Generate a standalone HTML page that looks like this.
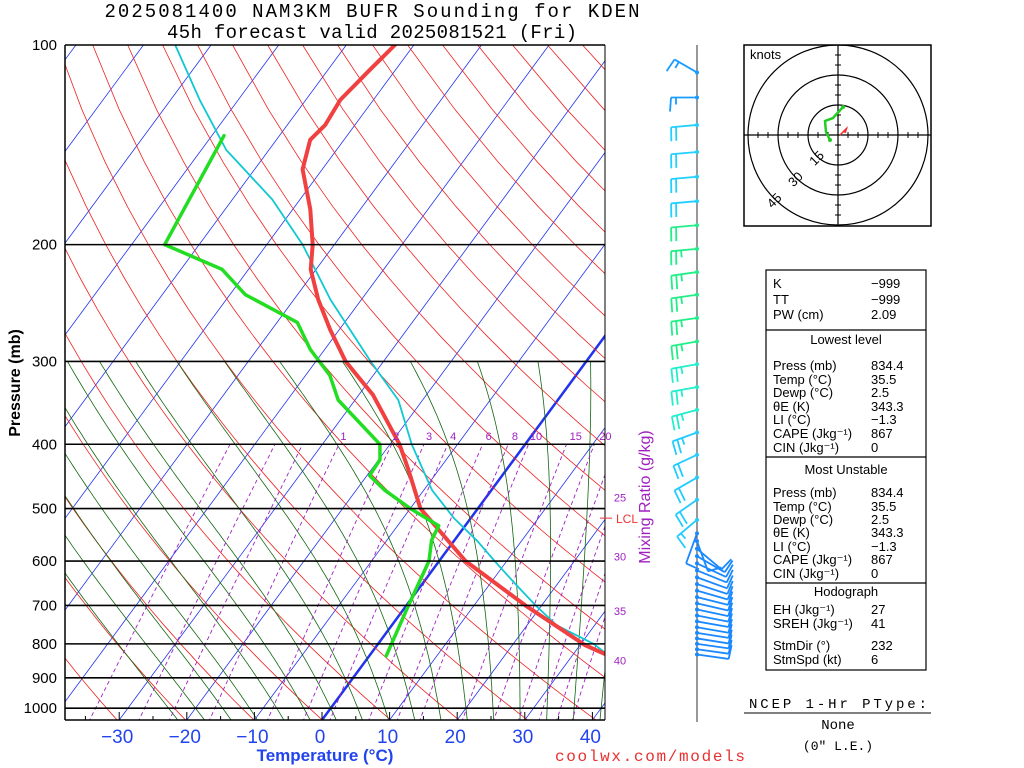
<!DOCTYPE html>
<html><head><meta charset="utf-8"><style>
html,body{margin:0;padding:0;background:#fff;}
svg{display:block;font-family:"Liberation Sans",sans-serif;}
</style></head><body>
<svg id="c" width="1024" height="768" viewBox="0 0 1024 768">
<defs><clipPath id="pc"><rect x="65" y="45" width="540" height="675"/></clipPath></defs>
<g id="bg" clip-path="url(#pc)"></g>
<g id="data" clip-path="url(#pc)"></g>
<g id="axes"></g>
<g id="barbs"></g>
<text x="372" y="17" text-anchor="middle" font-family="Liberation Mono,monospace" font-size="19" textLength="535">2025081400 NAM3KM BUFR Sounding for KDEN</text>
<text x="372" y="38" text-anchor="middle" font-family="Liberation Mono,monospace" font-size="19" textLength="410">45h forecast valid 2025081521 (Fri)</text>
<text transform="translate(20,383) rotate(-90)" text-anchor="middle" font-size="16" font-weight="bold">Pressure (mb)</text>
<text x="325" y="761" text-anchor="middle" font-size="17" font-weight="bold" fill="#2244ee">Temperature (°C)</text>
<text x="650" y="761" text-anchor="middle" font-size="16" fill="#e83030" font-family="Liberation Mono,monospace" textLength="190">coolwx.com/models</text>
<text transform="translate(650,497) rotate(-90)" text-anchor="middle" font-size="16" fill="#a020c0">Mixing Ratio (g/kg)</text>
<g id="hodo"></g>
<g id="stats"></g>
<g font-family="Liberation Mono,monospace" font-size="14" text-anchor="middle">
<text x="838" y="708" textLength="178">NCEP 1-Hr PType:</text>
<line x1="744" y1="713" x2="931" y2="713" stroke="#000"/>
<text x="838" y="729">None</text>
<text x="838" y="750" font-size="13">(0" L.E.)</text>
</g>
</svg>
<script>
// ---- data ----
const tempP=[834,803,700,600,500,437,400,337,300,269,242,218,200,177,154,139,132,121,109,100];
const tempT=[35.5,30.7,17.6,3.9,-8.5,-14.5,-18.6,-27.9,-35.6,-41.3,-46.4,-50.8,-53.2,-57.4,-62.9,-65,-64.4,-64.9,-63.8,-62.8];
const dewP=[834,700,600,558,531,500,469,446,422,400,343,315,288,262,238,218,200,137];
const dewT=[2.5,0.3,-1.5,-3.4,-3.9,-10,-15.8,-19.6,-19.8,-21.5,-32.5,-36.4,-42.1,-47,-57.7,-63.9,-75.1,-78.2];
const parcelP=[834,800,750,700,650,600,560,517,469,400,343,300,242,200,171,144,121,100];
const parcelT=[35.5,31.9,24.4,19.1,13.8,8.2,3.5,-2.5,-8.8,-16.8,-23.6,-31.9,-44.6,-54.7,-64.1,-76.3,-85.7,-95.3];
const pLabels=[100,200,300,400,500,600,700,800,900,1000];
const tLabels=[-30,-20,-10,0,10,20,30,40];
const mixVals=[0.2,0.4,0.6,1,2,3,4,6,8,10,15,20,25,30,35,40];
const mixRightP={25:481,30:591,35:714,40:847};
const windP=[110,120,132,145,158,172,187,203,220,238,258,280,303,328,355,384,415,449,485,520,545,560,575,590,605,620,635,650,665,680,695,710,725,740,755,770,785,800,815,830];
const windDir=[300,270,265,265,265,265,265,265,262,262,262,260,260,260,255,250,245,240,235,230,200,160,130,120,115,112,110,108,106,104,103,102,101,100,100,99,99,98,98,98];
const windSpd=[15,15,20,20,20,20,20,25,25,25,25,25,25,25,25,25,20,20,20,15,10,12,14,14,14,14,14,14,14,14,14,14,14,14,14,14,13,12,12,10];
const hodoU=[2.5,-2.5,-6.5,-6,-4];
const hodoV=[14,8.5,7,1.5,-2.5];
// ---- helpers ----
const NS="http://www.w3.org/2000/svg";
function mk(tag,parent,attrs){const e=document.createElementNS(NS,tag);for(const k in attrs)e.setAttribute(k,attrs[k]);parent.appendChild(e);return e;}
const Y=p=>45+288*Math.log(p/100);
const X=(T,p)=>322+6.76*T+(720-Y(p))*0.737;
const bg=document.getElementById('bg'),dg=document.getElementById('data'),ax=document.getElementById('axes');
function poly(parent,pts,st){return mk('polyline',parent,Object.assign({points:pts.map(q=>q[0].toFixed(1)+','+q[1].toFixed(1)).join(' '),fill:'none'},st));}
// isotherms
for(let T=-120;T<=40;T+=10){const l=mk('line',bg,{x1:X(T,1050),y1:Y(1050),x2:X(T,100),y2:Y(100),stroke:'#2233ee','stroke-width':T==0?2.5:0.8});

}
// dry adiabats
for(let th=200;th<=560;th+=10){const pts=[];for(let p=1050;p>=100;p-=25)pts.push([X(th*Math.pow(p/1000,0.286)-273.15,p),Y(p)]);
const l=poly(bg,pts,{stroke:'#ee2222','stroke-width':0.8});

}
// moist adiabats
function es(T){return 6.112*Math.exp(17.67*T/(T+243.5));}
function step(T,p,dp){const Rd=287,Cp=1005,L=2.5e6,eps=0.622;const rs=eps*es(T-273.15)/(p-es(T-273.15));return dp*(Rd*T+L*rs)/(p*(Cp+L*L*rs*eps/(Rd*T*T)));}
for(let tw=-24;tw<=40;tw+=4){let T=tw+273.15,p=1000;const pts=[];
let Td=T,pd=1000;
while(pd<1050){Td+=step(Td,pd,5);pd+=5;}pts.push([X(Td-273.15,1050),Y(1050)]);
while(p>=300){pts.push([X(T-273.15,p),Y(p)]);T+=step(T,p,-5);p-=5;}
const l=poly(bg,pts,{stroke:'#116611','stroke-width':0.8});

}
// mixing ratio
function tdw(w,p){const e=w*p/(622+w);const a=Math.log(e/6.112);return 243.5*a/(17.67-a);}
for(const w of mixVals){const pts=[];for(let p=1050;p>=400;p-=10){pts.push([X(tdw(w,p),p),Y(p)]);}
const l=poly(bg,pts,{stroke:'#a020c0','stroke-width':0.9,'stroke-dasharray':'4,3'});


if(w>=1){let x,y;
 if(mixRightP[w]){x=620;y=Y(mixRightP[w])+4;}else{x=X(tdw(w,400),400)+4+w*0.35;y=440;}
 const t=mk('text',ax,{x:x,y:y,'text-anchor':'middle','font-size':11,fill:'#a020c0'});t.textContent=w;
 
 }}
// isobars
for(const p of pLabels){const l=mk('line',ax,{x1:65,y1:Y(p),x2:605,y2:Y(p),stroke:'#000','stroke-width':1.6});


const t=mk('text',ax,{x:57,y:Y(p)+5,'text-anchor':'end','font-size':15});t.textContent=p;

}
mk('line',ax,{x1:65,y1:45,x2:65,y2:720,stroke:'#000','stroke-width':1.5});
mk('line',ax,{x1:605,y1:45,x2:605,y2:720,stroke:'#000','stroke-width':1});
mk('line',ax,{x1:65,y1:720,x2:605,y2:720,stroke:'#000','stroke-width':1.5});
for(let T=-35;T<=40;T+=5){const x=322+6.76*T;if(x<65)continue;mk('line',ax,{x1:x,y1:720,x2:x,y2:T%10==0?712:716,stroke:'#000'});}
for(const T of tLabels){const t=mk('text',ax,{x:322+6.76*T-2,y:743,'text-anchor':'middle','font-size':19,fill:'#2244ee'});t.textContent=(T<0?'−':'')+Math.abs(T);

}
// LCL
mk('line',ax,{x1:600,y1:Y(517),x2:612,y2:Y(517),stroke:'#ee3333'});
{const t=mk('text',ax,{x:616,y:Y(517)+5,'font-size':12,fill:'#ee3333'});t.textContent='LCL';

}
// profiles
function prof(P,T,col,w,name){const l=poly(dg,P.map((p,i)=>[X(T[i],p),Y(p)]),{stroke:col,'stroke-width':w,'stroke-linejoin':'round','stroke-linecap':'round'});

}
prof(parcelP,parcelT,'#11c8d0',1.8,'parcel-trace');
prof(tempP,tempT,'#f04040',4,'temperature-line');
prof(dewP,dewT,'#22dd22',3.5,'dewpoint-line');
// wind barbs
const bgp=document.getElementById('barbs');
mk('line',bgp,{x1:697,y1:45,x2:697,y2:722,stroke:'#555','stroke-width':1.2});
function bcol(p){if(p>530)return '#1a88ff';if(p<=128)return '#1a9cff';if(p<180)return '#22d0ff';if(p<300)return '#22ee88';if(p<360)return '#22eecc';return '#22ccff';}
windP.forEach((p,i)=>{const y=Y(p),d=windDir[i]*Math.PI/180,s=windSpd[i],c=bcol(p);
 const ux=Math.sin(d),uy=-Math.cos(d),L=p>530?32:26;
 const g=mk('g',bgp,{stroke:c,'stroke-width':1.8,fill:c});
 
 
 mk('line',g,{x1:697,y1:y,x2:697+ux*L,y2:y+uy*L});
 mk('circle',g,{cx:697,cy:y,r:2,stroke:'none'});
 let n=s,pos=L;
 const px=uy,py=-ux;
 while(n>=10){mk('line',g,{x1:697+ux*pos,y1:y+uy*pos,x2:697+ux*pos+px*14+ux*1,y2:y+uy*pos+py*14+uy*1});pos-=5;n-=10;}
 if(n>=5){mk('line',g,{x1:697+ux*pos,y1:y+uy*pos,x2:697+ux*pos+px*7,y2:y+uy*pos+py*7});}
});
// hodograph
const h=document.getElementById('hodo');const cx=838,cy=135,k=2;
mk('rect',h,{x:744,y:45,width:187,height:181,fill:'none',stroke:'#000','stroke-width':1.5});
const cp=mk('clipPath',h,{id:'hc'});mk('rect',cp,{x:744,y:45,width:187,height:181});
const hg=mk('g',h,{'clip-path':'url(#hc)'});
[15,30,45].forEach(r=>mk('circle',hg,{cx:cx,cy:cy,r:r*k,fill:'none',stroke:'#000','stroke-width':1.2}));
mk('line',hg,{x1:744,y1:cy,x2:931,y2:cy,stroke:'#000','stroke-width':1.2});
mk('line',hg,{x1:cx,y1:45,x2:cx,y2:226,stroke:'#000','stroke-width':1.2});
for(let v=-45;v<=45;v+=5){if(!v)continue;mk('line',hg,{x1:cx+v*k,y1:cy-3,x2:cx+v*k,y2:cy+3,stroke:'#000'});mk('line',hg,{x1:cx-3,y1:cy+v*k,x2:cx+3,y2:cy+v*k,stroke:'#000'});}
[[15,'15'],[30,'30'],[45,'45']].forEach(([r,s])=>{const a=Math.PI*0.75;const t=mk('text',h,{transform:`translate(${cx+Math.cos(a)*r*k+3},${cy+Math.sin(a)*r*k+5}) rotate(-45)`,'font-size':13,'text-anchor':'middle'});t.textContent=s;});
{const t=mk('text',h,{x:750,y:59,'font-size':13});t.textContent='knots';}
{const l=poly(h,hodoU.map((u,i)=>[cx+u*k,cy-hodoV[i]*k]),{stroke:'#22cc22','stroke-width':2.5});

}
mk('circle',h,{cx:cx+hodoU[0]*k,cy:cy-hodoV[0]*k,r:2,fill:'#22cc22'});
mk('circle',h,{cx:cx+hodoU[4]*k,cy:cy-hodoV[4]*k,r:2,fill:'#22cc22'});
mk('polygon',h,{points:'842,132 848,126 846,133',fill:'#ee3333'});
mk('line',h,{x1:840,y1:135,x2:847,y2:128,stroke:'#ee3333','stroke-width':1.5});
// stats
const st=document.getElementById('stats');
mk('rect',st,{x:766,y:270,width:160,height:400,fill:'none',stroke:'#000','stroke-width':1.2});
[330,457,583].forEach(y=>mk('line',st,{x1:766,y1:y,x2:926,y2:y,stroke:'#000','stroke-width':1.2}));
const rows=[[288,'K','−999'],[304,'TT','−999'],[319,'PW (cm)','2.09'],[344,'C','Lowest level'],
[370,'Press (mb)','834.4'],[384,'Temp (°C)','35.5'],[397,'Dewp (°C)','2.5'],[411,'θE (K)','343.3'],[424,'LI (°C)','−1.3'],[438,'CAPE (Jkg⁻¹)','867'],[452,'CIN (Jkg⁻¹)','0'],
[474,'C','Most Unstable'],[497,'Press (mb)','834.4'],[511,'Temp (°C)','35.5'],[524,'Dewp (°C)','2.5'],[537,'θE (K)','343.3'],[551,'LI (°C)','−1.3'],[564,'CAPE (Jkg⁻¹)','867'],[578,'CIN (Jkg⁻¹)','0'],
[596,'C','Hodograph'],[614,'EH (Jkg⁻¹)','27'],[628,'SREH (Jkg⁻¹)','41'],[650,'StmDir (°)','232'],[664,'StmSpd (kt)','6']];
rows.forEach(r=>{const y=r[0];
 if(r[1]=='C'){const t=mk('text',st,{x:846,y:y,'text-anchor':'middle','font-size':13});t.textContent=r[2];return;}
 const a=mk('text',st,{x:773,y:y,'font-size':13});a.textContent=r[1];
 const b=mk('text',st,{x:871,y:y,'font-size':13});b.textContent=r[2];});
</script>
</body></html>
